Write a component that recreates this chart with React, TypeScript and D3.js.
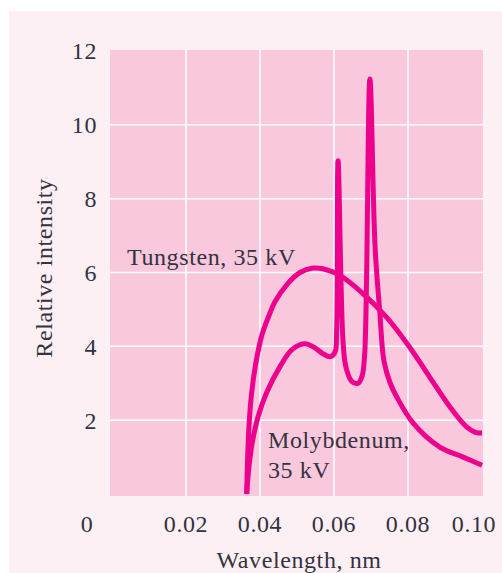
import React from 'react';
import * as d3 from 'd3';

// wavelength (nm) / relative intensity
const tungstenX = [0.0364, 0.0366, 0.037, 0.0377, 0.0388, 0.0405, 0.0425, 0.044, 0.0475, 0.0508, 0.0543, 0.057, 0.0616, 0.0678, 0.0743, 0.0805, 0.0859, 0.0914, 0.0959, 0.0982, 0.1];
const tungstenY = [0, 0.8, 1.8, 2.7, 3.5, 4.3, 4.85, 5.2, 5.7, 6.0, 6.12, 6.1, 5.92, 5.43, 4.78, 3.97, 3.16, 2.35, 1.81, 1.67, 1.65];

const molyX = [0.0364, 0.0367, 0.0372, 0.038, 0.0395, 0.0418, 0.0454, 0.0485, 0.052, 0.0545, 0.057, 0.059, 0.0603, 0.0607, 0.0611, 0.0624, 0.0632, 0.0648, 0.0665, 0.0676, 0.0683, 0.0697, 0.0711, 0.0724, 0.0735, 0.0752, 0.077, 0.0814, 0.0886, 0.0949, 0.1];
const molyY = [0, 0.4, 0.9, 1.45, 2.1, 2.75, 3.45, 3.9, 4.07, 3.98, 3.8, 3.72, 3.85, 4.4, 9.03, 4.2, 3.45, 3.05, 3.0, 3.2, 3.8, 11.24, 6.7, 4.9, 3.6, 3.0, 2.62, 1.92, 1.27, 1.0, 0.78];

const xTicks = [0, 0.02, 0.04, 0.06, 0.08, 0.1];
const xTickLabels = ['0', '0.02', '0.04', '0.06', '0.08', '0.10'];
const yTicks = [2, 4, 6, 8, 10, 12];

const W = 502;
const H = 573;
const ink = '#33323f';
const magenta = '#ec008c';
const font = '"Liberation Serif", "Times New Roman", serif';

export default function App() {
  const x = d3.scaleLinear().domain([0, 0.1]).range([112, 482]);
  const y = d3.scaleLinear().domain([0, 12]).range([494, 51]);

  const line = d3.line<[number, number]>()
    .x(d => x(d[0]))
    .y(d => y(d[1]))
    .curve(d3.curveCatmullRom.alpha(0.5));

  const tungsten = tungstenX.map((v, i) => [v, tungstenY[i]] as [number, number]);
  const moly = molyX.map((v, i) => [v, molyY[i]] as [number, number]);

  const textStyle = { fontFamily: font, fontSize: 24, letterSpacing: 0.6, fill: ink };

  return (
    <svg width={W} height={H} style={{ position: 'absolute', left: 0, top: 0 }}>
      {/* outer panel */}
      <rect x={9} y={11} width={W - 9} height={H - 11} fill='#fdf0f5' />

      {/* plot area */}
      <rect
        x={x(0) - 2}
        y={y(12) - 1}
        width={x(0.1) - x(0) + 3}
        height={y(0) - y(12) + 3}
        fill='#f9c8dd'
      />

      {/* grid */}
      {xTicks.slice(1, -1).map(t => (
        <line key={'gx' + t} x1={x(t)} x2={x(t)} y1={y(12) - 1} y2={y(0) + 2} stroke='#fff' strokeWidth={1.5} />
      ))}
      {yTicks.slice(0, -1).map(t => (
        <line key={'gy' + t} x1={x(0) - 2} x2={x(0.1) + 1} y1={y(t)} y2={y(t)} stroke='#fff' strokeWidth={1.5} />
      ))}

      {/* curves */}
      <path d={line(tungsten) || ''} fill='none' stroke={magenta} strokeWidth={5} strokeLinejoin='round' />
      <path d={line(moly) || ''} fill='none' stroke={magenta} strokeWidth={5} strokeLinejoin='bevel' />

      {/* y ticks */}
      {yTicks.map(t => (
        <text key={'ty' + t} x={97} y={y(t)} dy='0.35em' textAnchor='end' style={textStyle}>{t}</text>
      ))}

      {/* x ticks */}
      {xTicks.map((t, i) => (
        <text
          key={'tx' + t}
          x={i === 0 ? 87 : i === xTicks.length - 1 ? x(t) - 8 : x(t)}
          y={532}
          textAnchor='middle'
          style={textStyle}
        >
          {xTickLabels[i]}
        </text>
      ))}

      {/* axis titles */}
      <text x={299} y={568} textAnchor='middle' style={textStyle}>Wavelength, nm</text>
      <text
        transform={`translate(52, ${268}) rotate(-90)`}
        textAnchor='middle'
        style={textStyle}
      >
        Relative intensity
      </text>

      {/* curve labels */}
      <text x={127} y={265} style={textStyle}>Tungsten, 35 kV</text>
      <text x={268} y={448} style={textStyle}>Molybdenum,</text>
      <text x={268} y={478} style={textStyle}>35 kV</text>
    </svg>
  );
}
